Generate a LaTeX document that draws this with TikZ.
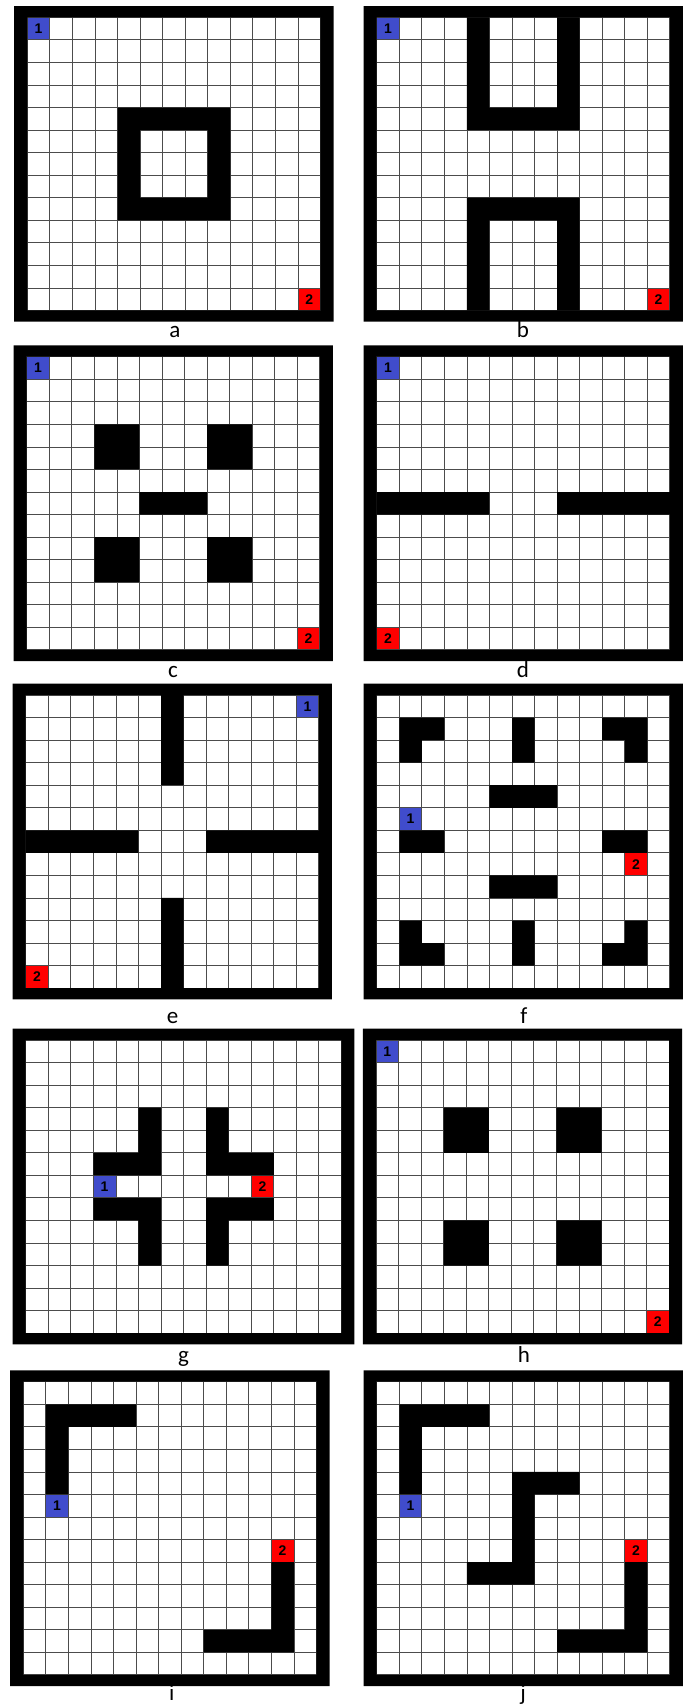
\documentclass[tikz,border=0pt]{standalone}
\usepackage{fontspec}
\setmainfont{Carlito}
\newfontfamily\numfont{Liberation Sans}
\usepackage{xcolor}
\usepackage{tikz}
\definecolor{startblue}{RGB}{64,76,204}
\definecolor{goalred}{RGB}{255,0,0}

% grid lines and thick outer frame of one maze (#1 columns, #2 rows)
\newcommand{\mazeframe}[2]{%
  \foreach \c in {0,...,#1} \draw[gridline] (\c,0) -- (\c,#2);
  \foreach \r in {0,...,#2} \draw[gridline] (0,\r) -- (#1,\r);
  \fill[wall, even odd rule] (-0.58,-0.5) rectangle (#1+0.58,#2+0.5) (0,0) rectangle (#1,#2);
}

\begin{document}
\begin{tikzpicture}[
        x=1pt, y=-1pt,
        gridline/.style={draw=black!70, line width=0.8pt},
        wall/.style={fill=black},
        cellnum/.style={minimum size=22.55pt, inner sep=0pt, font=\numfont\bfseries\fontsize{14}{15}\selectfont},
        start/.style={cellnum, fill=startblue},
        goal/.style={cellnum, fill=goalred},
        caption/.style={anchor=base, inner sep=0pt, font=\fontsize{23}{26}\selectfont},
        maze/.style={x=22.55pt, y=-22.55pt}
    ]
        \fill[white] (0,0) rectangle (690,1706);
        \useasboundingbox (0,0) rectangle (690,1706);

        % a: hollow square
        \begin{scope}[shift={(27.3pt,-17.3pt)}, maze]
            \node[start] (a1) at (0.5,0.5) {1};
            \node[goal] (a2) at (12.5,12.5) {2};
            \mazeframe{13}{13}
            \fill[wall, even odd rule] (4,4) rectangle (9,9) (5,5) rectangle (8,8);
        \end{scope}
        \node[caption] (alab) at (175,337) {a};

        % b: two U shapes
        \begin{scope}[shift={(376.7pt,-17.3pt)}, maze]
            \node[start] (b1) at (0.5,0.5) {1};
            \node[goal] (b2) at (12.5,12.5) {2};
            \mazeframe{13}{13}
            \fill[wall] (4,0) rectangle (5,5) (8,0) rectangle (9,5) (4,4) rectangle (9,5);
            \fill[wall] (4,8) rectangle (9,9) (4,8) rectangle (5,13) (8,8) rectangle (9,13);
        \end{scope}
        \node[caption] (blab) at (523,337) {b};

        % c: four blocks and a bar
        \begin{scope}[shift={(26.7pt,-356.7pt)}, maze]
            \node[start] (c1) at (0.5,0.5) {1};
            \node[goal] (c2) at (12.5,12.5) {2};
            \mazeframe{13}{13}
            \fill[wall] (3,3) rectangle (5,5) (8,3) rectangle (10,5) (5,6) rectangle (8,7)
                (3,8) rectangle (5,10) (8,8) rectangle (10,10);
        \end{scope}
        \node[caption] (clab) at (173,677) {c};

        % d: wall with a gap
        \begin{scope}[shift={(376.7pt,-356.7pt)}, maze]
            \node[start] (d1) at (0.5,0.5) {1};
            \node[goal] (d2) at (0.5,12.5) {2};
            \mazeframe{13}{13}
            \fill[wall] (0,6) rectangle (5,7) (8,6) rectangle (13,7);
        \end{scope}
        \node[caption] (dlab) at (523,677) {d};

        % e: four rooms
        \begin{scope}[shift={(25.7pt,-695pt)}, maze]
            \node[start] (e1) at (12.5,0.5) {1};
            \node[goal] (e2) at (0.5,12.5) {2};
            \mazeframe{13}{13}
            \fill[wall] (6,0) rectangle (7,4) (0,6) rectangle (5,7) (8,6) rectangle (13,7)
                (6,9) rectangle (7,13);
        \end{scope}
        \node[caption] (elab) at (172.6,1023) {e};

        % f: corners and bars
        \begin{scope}[shift={(376.7pt,-695pt)}, maze]
            \node[start] (f1) at (1.5,5.5) {1};
            \node[goal] (f2) at (11.5,7.5) {2};
            \mazeframe{13}{13}
            \fill[wall] (1,1) rectangle (3,2) (1,1) rectangle (2,3) (6,1) rectangle (7,3)
                (10,1) rectangle (12,2) (11,1) rectangle (12,3);
            \fill[wall] (5,4) rectangle (8,5) (1,6) rectangle (3,7) (10,6) rectangle (12,7)
                (5,8) rectangle (8,9);
            \fill[wall] (1,10) rectangle (2,12) (1,11) rectangle (3,12) (6,10) rectangle (7,12)
                (11,10) rectangle (12,12) (10,11) rectangle (12,12);
        \end{scope}
        \node[caption] (flab) at (524,1023) {f};

        % g: four bent walls, 14 columns
        \begin{scope}[shift={(25.7pt,-1040pt)}, maze]
            \node[start] (g1) at (3.5,6.5) {1};
            \node[goal] (g2) at (10.5,6.5) {2};
            \mazeframe{14}{13}
            \fill[wall] (5,3) rectangle (6,6) (3,5) rectangle (6,6) (8,3) rectangle (9,6)
                (8,5) rectangle (11,6);
            \fill[wall] (3,7) rectangle (6,8) (5,7) rectangle (6,10) (8,7) rectangle (11,8)
                (8,7) rectangle (9,10);
        \end{scope}
        \node[caption] (glab) at (183.5,1362) {g};

        % h: four blocks
        \begin{scope}[shift={(376pt,-1040pt)}, maze]
            \node[start] (h1) at (0.5,0.5) {1};
            \node[goal] (h2) at (12.5,12.5) {2};
            \mazeframe{13}{13}
            \fill[wall] (3,3) rectangle (5,5) (8,3) rectangle (10,5) (3,8) rectangle (5,10)
                (8,8) rectangle (10,10);
        \end{scope}
        \node[caption] (hlab) at (524,1362) {h};

        % i: two L walls
        \begin{scope}[shift={(23.3pt,-1381.7pt)}, maze]
            \node[start] (i1) at (1.5,5.5) {1};
            \node[goal] (i2) at (11.5,7.5) {2};
            \mazeframe{13}{13}
            \fill[wall] (1,1) rectangle (5,2) (1,1) rectangle (2,5) (11,8) rectangle (12,12)
                (8,11) rectangle (12,12);
        \end{scope}
        \node[caption] (ilab) at (171.7,1700) {i};

        % j: two L walls and an S wall
        \begin{scope}[shift={(376.7pt,-1381.7pt)}, maze]
            \node[start] (j1) at (1.5,5.5) {1};
            \node[goal] (j2) at (11.5,7.5) {2};
            \mazeframe{13}{13}
            \fill[wall] (1,1) rectangle (5,2) (1,1) rectangle (2,5) (6,4) rectangle (9,5)
                (6,4) rectangle (7,9) (4,8) rectangle (7,9);
            \fill[wall] (11,8) rectangle (12,12) (8,11) rectangle (12,12);
        \end{scope}
        \node[caption] (jlab) at (523,1700) {j};

    \end{tikzpicture}
\end{document}
